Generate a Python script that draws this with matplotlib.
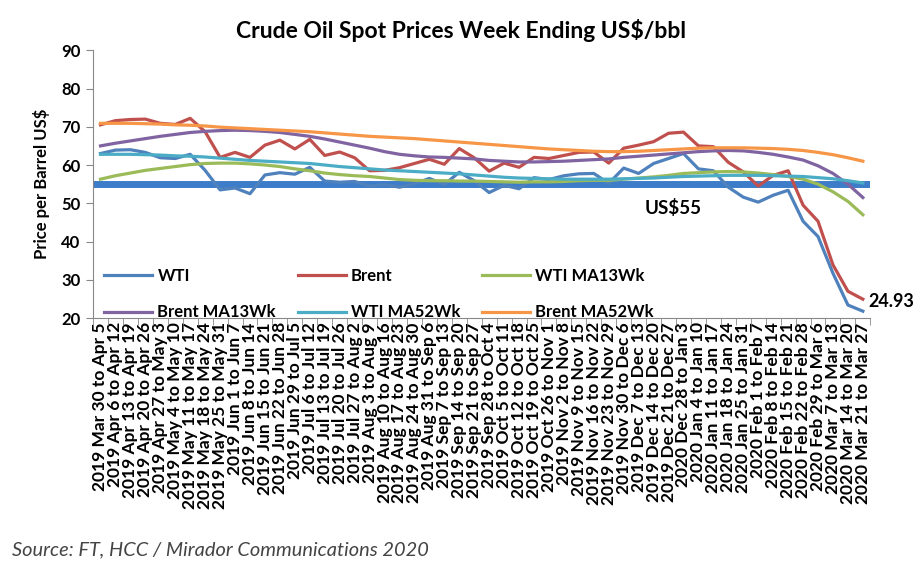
import matplotlib
matplotlib.use("Agg")
import matplotlib.pyplot as plt
from matplotlib.ticker import FixedLocator

plt.rcParams['font.family'] = ['Lato', 'DejaVu Sans']

weeks = [
    "2019 Mar 30 to Apr 5", "2019 Apr 6 to Apr 12", "2019 Apr 13 to Apr 19", "2019 Apr 20 to Apr 26",
    "2019 Apr 27 to May 3", "2019 May 4 to May 10", "2019 May 11 to May 17", "2019 May 18 to May 24",
    "2019 May 25 to May 31", "2019 Jun 1 to Jun 7", "2019 Jun 8 to Jun 14", "2019 Jun 15 to Jun 21",
    "2019 Jun 22 to Jun 28", "2019 Jun 29 to Jul 5", "2019 Jul 6 to Jul 12", "2019 Jul 13 to Jul 19",
    "2019 Jul 20 to Jul 26", "2019 Jul 27 to Aug 2", "2019 Aug 3 to Aug 9", "2019 Aug 10 to Aug 16",
    "2019 Aug 17 to Aug 23", "2019 Aug 24 to Aug 30", "2019 Aug 31 to Sep 6", "2019 Sep 7 to Sep 13",
    "2019 Sep 14 to Sep 20", "2019 Sep 21 to Sep 27", "2019 Sep 28 to Oct 4", "2019 Oct 5 to Oct 11",
    "2019 Oct 12 to Oct 18", "2019 Oct 19 to Oct 25", "2019 Oct 26 to Nov 1", "2019 Nov 2 to Nov 8",
    "2019 Nov 9 to Nov 15", "2019 Nov 16 to Nov 22", "2019 Nov 23 to Nov 29", "2019 Nov 30 to Dec 6",
    "2019 Dec 7 to Dec 13", "2019 Dec 14 to Dec 20", "2019 Dec 21 to Dec 27", "2020 Dec 28 to Jan 3",
    "2020 Jan 4 to Jan 10", "2020 Jan 11 to Jan 17", "2020 Jan 18 to Jan 24", "2020 Jan 25 to Jan 31",
    "2020 Feb 1 to Feb 7", "2020 Feb 8 to Feb 14", "2020 Feb 15 to Feb 21", "2020 Feb 22 to Feb 28",
    "2020 Feb 29 to Mar 6", "2020 Mar 7 to Mar 13", "2020 Mar 14 to Mar 20", "2020 Mar 21 to Mar 27",
]

wti = [63.0, 63.9, 64.0, 63.3, 61.9, 61.7, 62.8, 58.6, 53.5, 54.0, 52.5, 57.4, 58.0, 57.6, 59.4,
       55.8, 55.5, 55.7, 54.5, 54.9, 54.2, 55.1, 56.5, 54.9, 58.1, 55.9, 52.8, 54.7, 53.8, 56.7,
       56.2, 57.2, 57.7, 57.8, 55.2, 59.2, 57.8, 60.4, 61.7, 63.0, 59.0, 58.5, 54.2, 51.6, 50.3,
       52.1, 53.4, 45.3, 41.3, 31.7, 23.4, 21.8]
brent = [70.5, 71.6, 71.9, 72.0, 70.9, 70.6, 72.2, 68.7, 62.0, 63.3, 62.0, 65.2, 66.5, 64.2, 66.7,
         62.5, 63.4, 61.9, 58.5, 58.6, 59.3, 60.4, 61.5, 60.2, 64.3, 61.9, 58.4, 60.5, 59.4, 62.0,
         61.7, 62.5, 63.3, 63.4, 60.5, 64.4, 65.2, 66.1, 68.3, 68.6, 65.0, 64.8, 60.7, 58.2, 54.5,
         57.3, 58.5, 49.5, 45.3, 33.9, 27.0, 24.93]
wti_ma13 = [56.3, 57.2, 57.9, 58.6, 59.1, 59.6, 60.1, 60.4, 60.5, 60.5, 60.3, 60.0, 59.6, 59.0,
            58.5, 57.9, 57.5, 57.2, 57.0, 56.6, 56.2, 56.0, 55.9, 55.9, 55.8, 55.8, 55.7, 55.6,
            55.5, 55.6, 55.6, 55.7, 55.9, 56.0, 56.0, 56.3, 56.6, 56.9, 57.3, 57.8, 58.0, 58.2,
            58.3, 58.2, 57.9, 57.5, 57.0, 56.3, 55.0, 53.0, 50.5, 47.0]
brent_ma13 = [65.0, 65.7, 66.3, 66.9, 67.5, 68.0, 68.5, 68.8, 69.0, 69.1, 69.0, 68.8, 68.5, 68.0,
              67.5, 66.8, 66.0, 65.2, 64.4, 63.5, 62.8, 62.4, 62.1, 62.0, 61.8, 61.6, 61.2, 61.0,
              60.8, 60.8, 60.9, 61.0, 61.2, 61.4, 61.6, 62.0, 62.3, 62.6, 62.9, 63.2, 63.5, 63.7,
              63.8, 63.7, 63.3, 62.8, 62.1, 61.3, 59.8, 57.8, 55.0, 51.5]
wti_ma52 = [62.8, 62.8, 62.8, 62.7, 62.6, 62.4, 62.3, 62.1, 61.8, 61.5, 61.2, 61.0, 60.8, 60.6,
            60.4, 60.0, 59.6, 59.3, 59.0, 58.7, 58.5, 58.3, 58.1, 57.9, 57.7, 57.4, 57.1, 56.8,
            56.6, 56.5, 56.4, 56.3, 56.3, 56.3, 56.3, 56.4, 56.5, 56.6, 56.8, 57.0, 57.1, 57.2,
            57.3, 57.3, 57.3, 57.2, 57.1, 57.0, 56.7, 56.4, 55.9, 55.3]
brent_ma52 = [70.9, 70.9, 70.9, 70.8, 70.7, 70.5, 70.4, 70.2, 69.9, 69.7, 69.5, 69.3, 69.1, 68.9,
              68.7, 68.4, 68.1, 67.8, 67.5, 67.3, 67.1, 66.9, 66.6, 66.3, 66.0, 65.7, 65.4, 65.1,
              64.8, 64.5, 64.2, 64.0, 63.8, 63.6, 63.5, 63.5, 63.6, 63.8, 64.0, 64.2, 64.4, 64.5,
              64.5, 64.5, 64.4, 64.3, 64.1, 63.8, 63.3, 62.7, 61.9, 61.0]
ref_level = 55
yticks = [20, 30, 40, 50, 60, 70, 80, 90]

fig = plt.figure(figsize=(9.21, 5.71), dpi=100)
ax = fig.add_axes([0.101, 0.443, 0.844, 0.469])

x = list(range(len(weeks)))
lw = 2.3
ax.axhline(ref_level, color='#3D7CC9', lw=5, zorder=1)
series = {
    "WTI": (wti, '#4F81BD'),
    "Brent": (brent, '#C0504D'),
    "WTI MA13Wk": (wti_ma13, '#9BBB59'),
    "Brent MA13Wk": (brent_ma13, '#8064A2'),
    "WTI MA52Wk": (wti_ma52, '#4BACC6'),
    "Brent MA52Wk": (brent_ma52, '#F79646'),
}
handles = {}
for name, (vals, col) in series.items():
    h, = ax.plot(x, vals, color=col, lw=lw, label=name, zorder=3, solid_joinstyle='round')
    handles[name] = h

ax.set_xlim(-0.5, len(weeks) - 0.5)
ax.set_ylim(20, 90)
ax.set_yticks(yticks)
ax.set_yticklabels([str(v) for v in yticks], fontsize=12, fontweight='bold')
ax.set_xticks(x)
ax.set_xticklabels(weeks, rotation=90, fontsize=12.5, fontweight='bold')
ax.tick_params(axis='x', length=0, pad=3)
ax.xaxis.set_minor_locator(FixedLocator([i - 0.5 for i in range(len(weeks) + 1)]))
ax.tick_params(axis='x', which='minor', length=5, color='#888888')
ax.tick_params(axis='y', length=5, color='#888888', pad=4)
for s in ['top', 'right']:
    ax.spines[s].set_visible(False)
for s in ['left', 'bottom']:
    ax.spines[s].set_color('#888888')
ax.set_ylabel("Price per Barrel US$", fontsize=12, fontweight='bold', labelpad=8)

order = ["WTI", "Brent MA13Wk", "Brent", "WTI MA52Wk", "WTI MA13Wk", "Brent MA52Wk"]
ax.legend(handles=[handles[k] for k in order], labels=order, ncol=3, loc='lower left',
          bbox_to_anchor=(-0.005, -0.065), frameon=False,
          prop={'weight': 'bold', 'size': 12},
          handlelength=2.9, columnspacing=1.3, handletextpad=0.3, labelspacing=1.25)

ax.text(36.4, 48.7, "US$55", fontsize=13.5, fontweight='bold', ha='left', va='center')
ax.text(51.4, 24.4, "24.93", fontsize=13, fontweight='bold', ha='left', va='center',
        clip_on=False)

fig.text(0.5, 0.947, "Crude Oil Spot Prices Week Ending US$/bbl", ha='center', va='center',
         fontsize=16.5, fontweight='bold')
fig.text(0.013, 0.037, "Source: FT, HCC / Mirador Communications 2020", ha='left', va='center',
         fontsize=14.4, style='italic', color='#444444')

fig.savefig("out.png", dpi=100)
